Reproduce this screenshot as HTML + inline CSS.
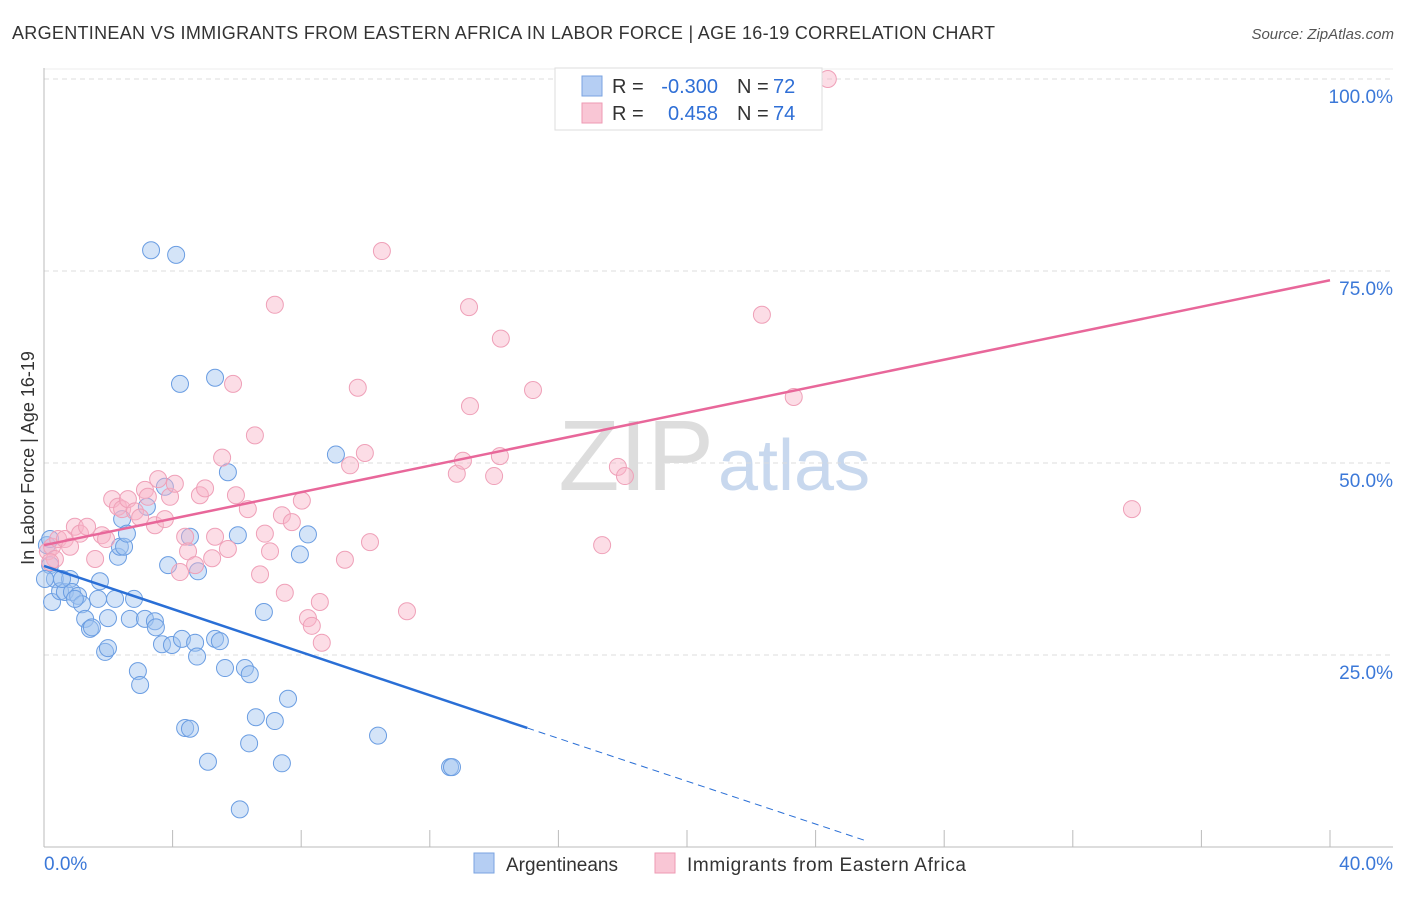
<!DOCTYPE html>
<html><head><meta charset="utf-8"><style>
body{margin:0;background:#fff;font-family:"Liberation Sans",sans-serif;}
svg text{font-family:"Liberation Sans",sans-serif;}
</style></head><body>
<svg id="chart" width="1406" height="892">
<text x="12" y="39" font-size="18" fill="#333" textLength="983" lengthAdjust="spacing">ARGENTINEAN VS IMMIGRANTS FROM EASTERN AFRICA IN LABOR FORCE | AGE 16-19 CORRELATION CHART</text>
<text x="1394" y="39" font-size="15" fill="#555" font-style="italic" text-anchor="end">Source: ZipAtlas.com</text>
<text x="714" y="490" font-size="100" fill="#ddd" text-anchor="end" font-family="Liberation Serif">ZIP</text>
<text x="718" y="490" font-size="72" fill="#c8d8ee">atlas</text>
<g id="grid"></g>
<g id="axes"></g>
<g id="points"></g>
<g id="lines"></g>
<text transform="translate(34,458) rotate(-90)" font-size="18" fill="#333" text-anchor="middle">In Labor Force | Age 16-19</text>
<g>
<rect x="555" y="68" width="267" height="62" fill="#fff" stroke="#ddd"/>
<rect x="582" y="76" width="20" height="20" fill="#b5cef3" stroke="#7aa3e0"/>
<rect x="582" y="103" width="20" height="20" fill="#f9c6d5" stroke="#ee9ab3"/>
<text x="612" y="93" font-size="20" fill="#333">R =</text>
<text x="718" y="93" font-size="20" fill="#2f6fd6" text-anchor="end">-0.300</text>
<text x="737" y="93" font-size="20" fill="#333">N =</text>
<text x="773" y="93" font-size="20" fill="#2f6fd6">72</text>
<text x="612" y="120" font-size="20" fill="#333">R =</text>
<text x="718" y="120" font-size="20" fill="#2f6fd6" text-anchor="end">0.458</text>
<text x="737" y="120" font-size="20" fill="#333">N =</text>
<text x="773" y="120" font-size="20" fill="#2f6fd6">74</text>
</g>
<g>
<rect x="474" y="853" width="20" height="20" fill="#b5cef3" stroke="#7aa3e0"/>
<text x="506" y="871" font-size="19" fill="#333">Argentineans</text>
<rect x="655" y="853" width="20" height="20" fill="#f9c6d5" stroke="#ee9ab3"/>
<text x="687" y="871" font-size="19" fill="#333" textLength="279" lengthAdjust="spacing">Immigrants from Eastern Africa</text>
</g>
</svg>
<script>
const xTicks=[0,4,8,12,16,20,24,28,32,36,40];
const yTicks=[25,50,75,100];
const blueX=[0.09,0.19,0.25,0.34,0.50,0.65,0.81,0.87,1.06,1.18,1.28,1.43,1.49,1.68,1.74,1.90,1.99,1.99,2.21,2.30,2.36,2.49,2.43,2.58,2.67,2.80,2.92,2.99,3.14,3.20,3.33,3.45,3.48,3.67,3.76,3.86,3.98,4.11,4.23,4.29,4.39,4.54,4.54,4.70,4.76,4.79,5.10,5.32,5.32,5.47,5.63,5.72,6.03,6.09,6.25,6.40,6.38,6.59,6.84,7.18,7.40,7.59,7.96,8.21,9.08,10.39,12.63,12.69,0.03,0.19,0.56,0.96];
const blueY=[39.3,36.7,31.9,34.9,33.3,33.2,34.9,33.2,32.7,31.6,29.7,28.4,28.6,32.3,34.6,25.4,25.9,29.8,32.3,37.8,39.1,39.1,42.7,40.8,29.7,32.3,22.9,21.1,29.7,44.3,77.7,29.4,28.6,26.4,46.9,36.7,26.3,77.1,60.3,27.1,15.5,15.4,40.4,26.6,24.8,35.9,11.1,61.1,27.1,26.8,23.3,48.8,40.6,4.9,23.3,22.5,13.5,16.9,30.6,16.4,10.9,19.3,38.1,40.7,51.1,14.5,10.4,10.4,34.9,40.1,34.9,32.3];
const pinkX=[0.12,0.25,0.34,0.44,0.65,0.81,0.96,1.12,1.34,1.59,1.80,1.93,2.12,2.30,2.43,2.61,2.83,2.99,3.14,3.23,3.45,3.55,3.76,3.92,4.07,4.23,4.39,4.48,4.70,4.85,5.01,5.23,5.32,5.54,5.72,5.88,5.97,6.34,6.56,6.72,6.87,7.03,7.18,7.40,7.49,7.71,8.02,8.21,8.33,8.58,8.64,9.36,9.52,9.76,9.98,10.14,10.51,11.29,12.84,13.03,13.22,13.25,14.00,14.18,14.21,15.21,17.36,17.85,18.07,22.33,23.32,24.38,33.84,0.19];
const pinkY=[38.5,39.1,37.5,40.1,40.1,39.1,41.7,40.8,41.7,37.5,40.6,40.1,45.3,44.3,44.0,45.3,43.7,42.9,46.5,45.6,41.9,47.9,42.7,45.6,47.3,35.8,40.4,38.5,36.7,45.8,46.7,37.6,40.4,50.7,38.8,60.3,45.8,44.0,53.6,35.5,40.8,38.5,70.6,43.2,33.1,42.3,45.1,29.8,28.8,31.9,26.6,37.4,49.7,59.8,51.3,39.7,77.6,30.7,48.6,50.3,70.3,57.4,48.3,50.9,66.2,59.5,39.3,49.5,48.3,69.3,58.6,100,44.0,37.1];
const blueLine=[[0,36.6],[15.03,15.5]], blueDash=[[15.03,15.5],[25.5,0.9]];
const pinkLine=[[0,39.3],[40,73.8]];
const X=v=>44+v/40*1286, Y=v=>847-v/100*768;
const NS="http://www.w3.org/2000/svg";
function mk(tag,attrs,parent){const e=document.createElementNS(NS,tag);for(const k in attrs)e.setAttribute(k,attrs[k]);document.getElementById(parent).appendChild(e);return e;}
yTicks.forEach(t=>{
  const l=mk('line',{x1:44,x2:1393,y1:Y(t),y2:Y(t),stroke:'#ddd','stroke-dasharray':'5,4'},'grid');
  
  
  const tx=mk('text',{x:1393,y:Y(t)+24,'font-size':19,fill:'#3b78d8','text-anchor':'end'},'axes');
  tx.textContent=t.toFixed(1)+'%';
  
  
});
mk('line',{x1:44,x2:1393,y1:Y(100)-10,y2:Y(100)-10,stroke:'#eee'},'grid');
const ax=mk('line',{x1:44,x2:44,y1:68,y2:847,stroke:'#bbb'},'axes');


const bx=mk('line',{x1:44,x2:1393,y1:847,y2:847,stroke:'#bbb'},'axes');


xTicks.forEach(t=>{
  if(t>0){const l=mk('line',{x1:X(t),x2:X(t),y1:830,y2:847,stroke:'#bbb'},'axes');
  
  }
});
[[0,'0.0%','start',44],[40,'40.0%','end',1393]].forEach(([t,s,a,px])=>{
  const tx=mk('text',{x:px,y:870,'font-size':19,fill:'#3b78d8','text-anchor':a},'axes');
  tx.textContent=s;
  
  
});
blueX.forEach((v,i)=>{
  const c=mk('circle',{cx:X(v),cy:Y(blueY[i]),r:8.5,fill:'rgba(160,195,240,0.45)',stroke:'#6a9de2','stroke-width':1},'points');
  
  
});
pinkX.forEach((v,i)=>{
  const c=mk('circle',{cx:X(v),cy:Y(pinkY[i]),r:8.5,fill:'rgba(248,180,200,0.45)',stroke:'#efa0b8','stroke-width':1},'points');
  
  
});
const b1=mk('line',{x1:X(blueLine[0][0]),y1:Y(blueLine[0][1]),x2:X(blueLine[1][0]),y2:Y(blueLine[1][1]),stroke:'#2a6fd6','stroke-width':2.5},'lines');


const b2=mk('line',{x1:X(blueDash[0][0]),y1:Y(blueDash[0][1]),x2:X(blueDash[1][0]),y2:Y(blueDash[1][1]),stroke:'#2a6fd6','stroke-width':1,'stroke-dasharray':'7,5'},'lines');


const p1=mk('line',{x1:X(pinkLine[0][0]),y1:Y(pinkLine[0][1]),x2:X(pinkLine[1][0]),y2:Y(pinkLine[1][1]),stroke:'#e8679a','stroke-width':2.5},'lines');


</script>
</body></html>
